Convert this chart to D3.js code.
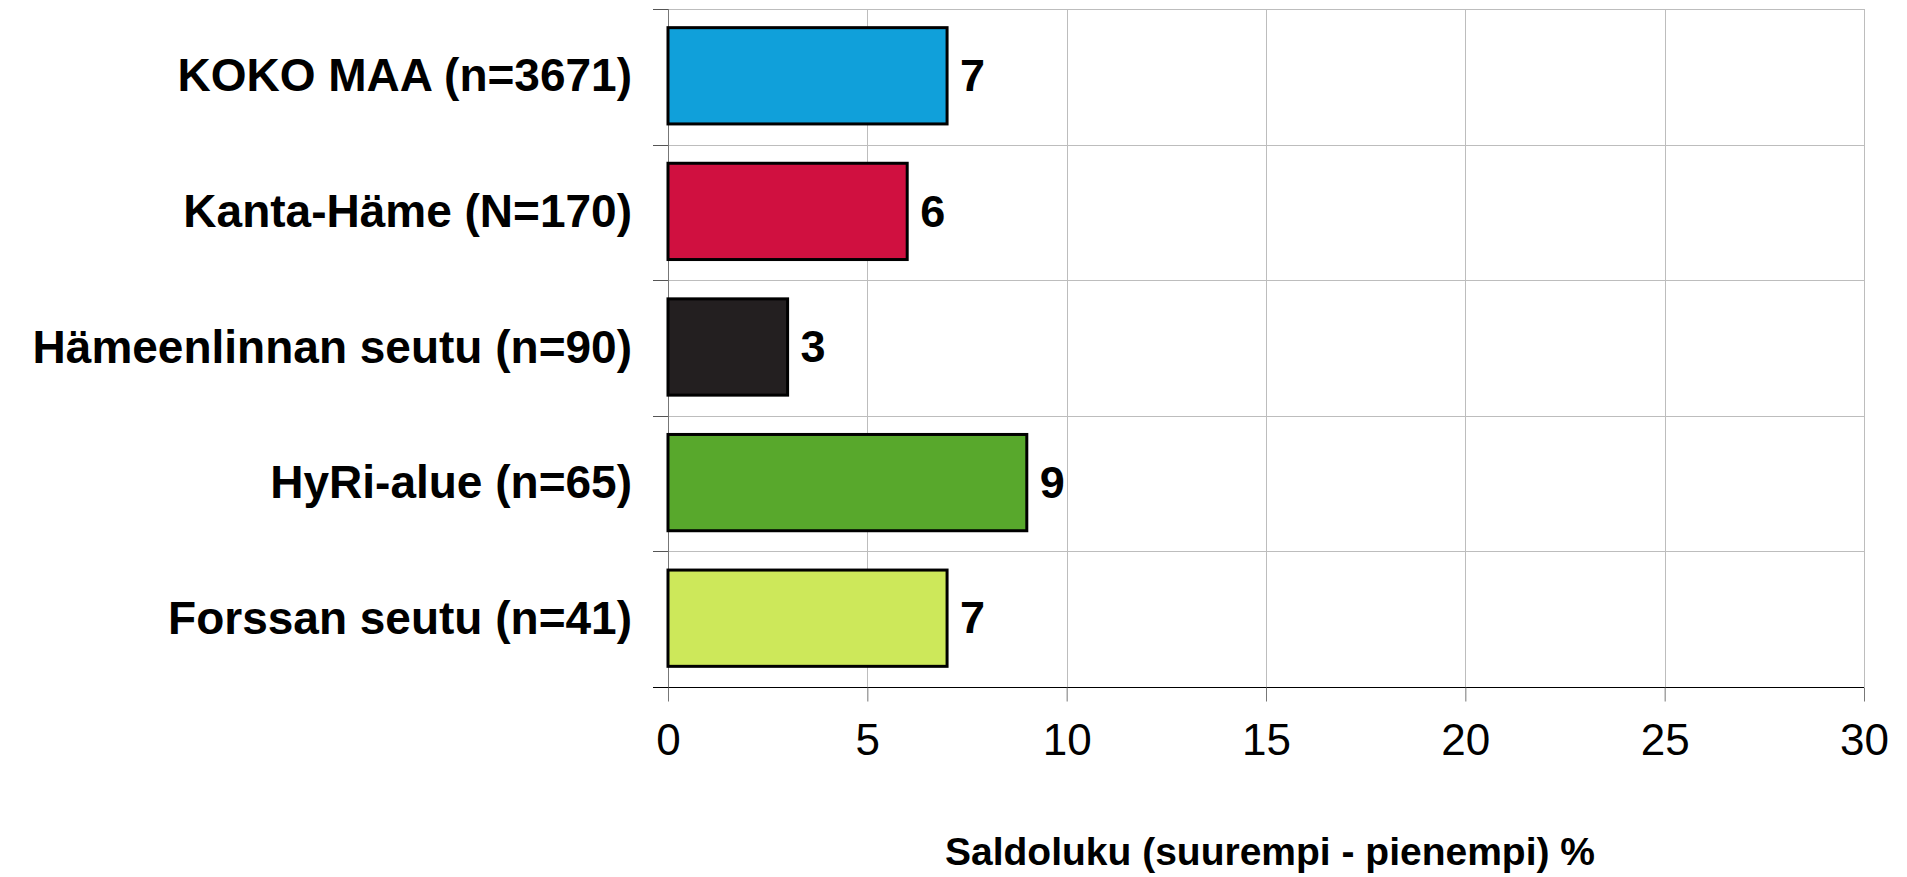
<!DOCTYPE html>
<html>
<head>
<meta charset="utf-8">
<script src="https://cdn.jsdelivr.net/npm/d3@7"></script>
<style>
  html, body { margin: 0; padding: 0; background: #fff; }
  svg { display: block; font-family: "Liberation Sans", Arial, sans-serif; }
</style>
</head>
<body>
<div id="chart"></div>
<script>
const categories = ["KOKO MAA (n=3671)", "Kanta-Häme (N=170)", "Hämeenlinnan seutu (n=90)", "HyRi-alue (n=65)", "Forssan seutu (n=41)"]
const values = [7, 6, 3, 9, 7]
const barColors = ["#10a0da", "#d01040", "#231f20", "#58a82c", "#cde85a"]
const xTicks = [0, 5, 10, 15, 20, 25, 30]
const axisTitle = "Saldoluku (suurempi - pienempi) %"

const width = 1907, height = 877
const plotLeft = 668, plotRight = 1864, plotTop = 9, plotBottom = 687

let svg = d3.select("#chart").append("svg")
    .attr("width", width)
    .attr("height", height)

let x = d3.scaleLinear().domain([0, 30]).range([plotLeft, plotRight])
let y = d3.scaleBand().domain(categories).range([plotTop, plotBottom])
    .paddingInner(0.29).paddingOuter(0.145)

let step = y.step()
let bounds = d3.range(categories.length + 1).map(i => plotTop + i * step)

// vertical gridlines
svg.append("g")
    .selectAll("line")
    .data(xTicks.slice(1))
    .join("line")
    .attr("x1", d => Math.round(x(d)) + 0.5)
    .attr("x2", d => Math.round(x(d)) + 0.5)
    .attr("y1", plotTop)
    .attr("y2", plotBottom)
    .attr("stroke", "#bdbdbd")
    .attr("stroke-width", 1)

// horizontal gridlines
svg.append("g")
    .selectAll("line")
    .data(bounds.slice(0, -1))
    .join("line")
    .attr("x1", plotLeft)
    .attr("x2", plotRight)
    .attr("y1", d => Math.round(d) + 0.5)
    .attr("y2", d => Math.round(d) + 0.5)
    .attr("stroke", "#bdbdbd")
    .attr("stroke-width", 1)

// left ticks
svg.append("g")
    .selectAll("line")
    .data(bounds.slice(0, -1))
    .join("line")
    .attr("x1", plotLeft - 15)
    .attr("x2", plotLeft)
    .attr("y1", d => Math.round(d) + 0.5)
    .attr("y2", d => Math.round(d) + 0.5)
    .attr("stroke", "#555")

// left axis line
svg.append("line")
    .attr("x1", plotLeft + 0.5).attr("x2", plotLeft + 0.5)
    .attr("y1", plotTop).attr("y2", plotBottom + 14)
    .attr("stroke", "#777")

// bottom axis
let xAxis = svg.append("g")
    .attr("transform", `translate(0,${Math.round(plotBottom) + 0.5})`)
    .call(d3.axisBottom(x).tickValues(xTicks).tickSize(14).tickSizeOuter(0).tickPadding(22))
xAxis.select(".domain").attr("stroke", "#000").attr("d", `M${plotLeft - 15},0H${plotRight}`)
xAxis.selectAll(".tick line").attr("stroke", "#777")
xAxis.selectAll(".tick text")
    .attr("font-size", 44)
    .attr("font-family", "Liberation Sans, Arial, sans-serif")
    .attr("fill", "#000")

// bars
svg.append("g")
    .selectAll("rect")
    .data(categories)
    .join("rect")
    .attr("x", x(0))
    .attr("y", d => y(d) - 1)
    .attr("width", (d, i) => x(values[i]) - x(0))
    .attr("height", y.bandwidth())
    .attr("fill", (d, i) => barColors[i])
    .attr("stroke", "#000")
    .attr("stroke-width", 3)

// value labels
svg.append("g")
    .selectAll("text")
    .data(categories)
    .join("text")
    .attr("x", (d, i) => x(values[i]) + 13)
    .attr("y", d => y(d) + y.bandwidth() / 2 - 2)
    .attr("dy", "0.36em")
    .attr("font-size", 45)
    .attr("font-weight", "bold")
    .text((d, i) => values[i])

// category labels
svg.append("g")
    .selectAll("text")
    .data(categories)
    .join("text")
    .attr("x", 632)
    .attr("y", d => y(d) + y.bandwidth() / 2 - 2)
    .attr("dy", "0.36em")
    .attr("text-anchor", "end")
    .attr("font-size", 46)
    .attr("font-weight", "bold")
    .text(d => d)

// axis title
svg.append("text")
    .attr("x", 1270)
    .attr("y", 865)
    .attr("text-anchor", "middle")
    .attr("font-size", 39)
    .attr("font-weight", "bold")
    .text(axisTitle)
</script>
</body>
</html>
